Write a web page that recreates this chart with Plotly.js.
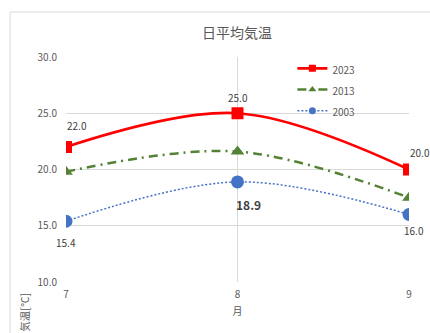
<!DOCTYPE html>
<html><head><meta charset="utf-8">
<script src="https://cdn.plot.ly/plotly-3.0.1.min.js"></script>
<style>html,body{margin:0;padding:0;background:#fff;}#c{width:430px;height:333px;}</style>
</head><body><div id="c"></div>
<script>
const months = [7, 8, 9];
const t2023 = [22.0, 25.0, 20.0];
const t2013 = [19.8, 21.6, 17.5];
const t2003 = [15.4, 18.9, 16.0];
const seriesNames = ['2023', '2013', '2003'];
const yTicks = [10, 15, 20, 25, 30];
const yTickText = ['10.0', '15.0', '20.0', '25.0', '30.0'];

const F = 'Noto Sans CJK JP, sans-serif';
const G = '#595959';

const styles = [
  {line: {color: '#FF0000', width: 2.75}, sym: 'square', size: 12, lsize: 7},
  {line: {color: '#548235', width: 2.5, dash: '9px,5px,2px,5px'}, sym: 'triangle-up', size: 12, lsize: 7},
  {line: {color: '#4472C4', width: 1.5, dash: '2px,2px'}, sym: 'circle', size: 13, lsize: 7}
];
const data = [t2023, t2013, t2003];
const traces = [];
data.forEach((ys, k) => {
  const s = styles[k];
  traces.push({x: months, y: ys, name: seriesNames[k], mode: 'lines+markers', showlegend: false,
    line: Object.assign({shape: 'spline', smoothing: 1}, s.line),
    marker: {symbol: s.sym, size: s.size, color: s.line.color}});
});
data.forEach((ys, k) => {
  const s = styles[k];
  traces.push({x: [null], y: [null], name: '<span style="font-size:10px">' + seriesNames[k] + '</span>', mode: 'lines+markers', showlegend: true,
    line: s.line, marker: {symbol: s.sym, size: s.lsize, color: s.line.color}});
});

const lbl23 = [{dx: 11, dy: 22}, {dx: 0, dy: 16}, {dx: 11, dy: 17}];
const lbl03 = [{dx: 0, dy: -21}, {dx: 11, dy: -23}, {dx: 5, dy: -16}];
const annotations = [];
months.forEach((m, i) => {
  annotations.push({x: m, y: t2023[i], text: t2023[i].toFixed(1), showarrow: false, xshift: lbl23[i].dx, yshift: lbl23[i].dy,
    font: {family: F, size: 10, color: '#404040'}});
  annotations.push({x: m, y: t2003[i], text: i === 1 ? '<b>' + t2003[i].toFixed(1) + '</b>' : t2003[i].toFixed(1), showarrow: false,
    xshift: lbl03[i].dx, yshift: lbl03[i].dy, font: {family: F, size: i === 1 ? 12 : 10, color: '#404040'}});
});
annotations.push({xref: 'paper', yref: 'paper', x: -0.122, y: -0.04, text: '気温[℃]', textangle: -90, showarrow: false,
  xanchor: 'center', yanchor: 'top', font: {family: F, size: 10.5, color: G}});

const layout = {
  width: 430, height: 333,
  margin: {l: 66, r: 21, t: 57, b: 51},
  paper_bgcolor: '#fff', plot_bgcolor: '#fff',
  font: {family: F, size: 10, color: G},
  title: {text: '日平均気温', font: {family: F, size: 14, color: G}, x: 0.551, xanchor: 'center', y: 0.9, yanchor: 'middle'},
  xaxis: {range: [7, 9], tickvals: months, ticktext: months.map(String), showgrid: true, gridcolor: '#d9d9d9', zeroline: false,
    showline: false, ticks: '', tickfont: {family: F, size: 10, color: G}, ticklabelstandoff: 5,
    title: {text: '月', font: {family: F, size: 10, color: G}, standoff: 7}},
  yaxis: {range: [10, 30], tickvals: yTicks, ticktext: yTickText, showgrid: true, gridcolor: '#d9d9d9', zeroline: false,
    showline: false, ticks: '', tickfont: {family: F, size: 10, color: G}, ticklabelstandoff: 8},
  legend: {x: 0.66, y: 1.019, xanchor: 'left', yanchor: 'top', bgcolor: 'rgba(255,255,255,0)', borderwidth: 0,
    font: {family: F, size: 14, color: G}, itemwidth: 30, tracegroupgap: 0},
  showlegend: true,
  annotations: annotations,
  shapes: [
    {type: 'line', xref: 'paper', yref: 'paper', x0: -0.163, x1: -0.163, y0: 1.2, y1: -0.3, line: {color: '#d9d9d9', width: 1}},
    {type: 'line', xref: 'paper', yref: 'paper', x0: -0.163, x1: 1.1, y0: 1.2, y1: 1.2, line: {color: '#d9d9d9', width: 1}}
  ]
};
Plotly.newPlot('c', traces, layout, {displayModeBar: false, staticPlot: true});
</script></body></html>
